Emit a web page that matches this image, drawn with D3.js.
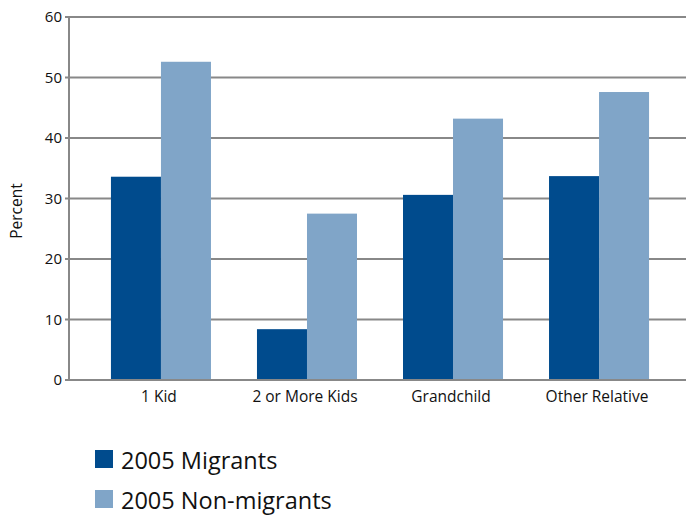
<!DOCTYPE html>
<html>
<head>
<meta charset="utf-8">
<script src="https://cdn.jsdelivr.net/npm/d3@7"></script>
<style>
  body { margin: 0; background: #fff; }
  text { font-family: "Open Sans", "Noto Sans", sans-serif; fill: #111; }
</style>
</head>
<body>
<script>
var categories = ['1 Kid', '2 or More Kids', 'Grandchild', 'Other Relative']
var seriesNames = ['2005 Migrants', '2005 Non-migrants']
var migrants = [33.6, 8.4, 30.6, 33.7]
var nonMigrants = [52.6, 27.5, 43.2, 47.6]
var yTicks = [0, 10, 20, 30, 40, 50, 60]
var colors = ['#004b8d', '#80a5c8']

var width = 689, height = 517
var plotLeft = 69, plotRight = 686, plotTop = 17, plotBottom = 380

var svg = d3.select('body').append('svg')
  .attr('width', width)
  .attr('height', height)

var y = d3.scaleLinear().domain([0, 60]).range([plotBottom, plotTop])

var x = d3.scaleBand()
  .domain(categories)
  .range([74, 686])
  .paddingInner(0.315)
  .paddingOuter(0.253)

var x1 = d3.scaleBand()
  .domain([0, 1])
  .range([0, x.bandwidth()])

// gridlines
svg.append('g')
  .selectAll('line')
  .data(yTicks)
  .enter()
  .append('line')
  .attr('x1', plotLeft - 4)
  .attr('x2', plotRight)
  .attr('y1', function(d){ return y(d) })
  .attr('y2', function(d){ return y(d) })
  .attr('stroke', '#888')
  .attr('stroke-width', 2)

svg.append('line')
  .attr('x1', plotLeft).attr('x2', plotLeft)
  .attr('y1', plotTop - 1).attr('y2', plotBottom + 1)
  .attr('stroke', '#888')
  .attr('stroke-width', 2)

// y tick labels
svg.append('g')
  .selectAll('text')
  .data(yTicks)
  .enter()
  .append('text')
  .attr('x', plotLeft - 7)
  .attr('y', function(d){ return y(d) })
  .attr('dy', '0.35em')
  .attr('text-anchor', 'end')
  .attr('font-size', 15)
  .text(function(d){ return d })

// bars
var rows = categories.map(function(c, i){ return [migrants[i], nonMigrants[i]] })

var groups = svg.append('g')
  .selectAll('g')
  .data(rows)
  .enter()
  .append('g')
  .attr('transform', function(d, i){ return 'translate(' + x(categories[i]) + ',0)' })

groups.selectAll('rect')
  .data(function(d){ return d })
  .enter()
  .append('rect')
  .attr('x', function(d, j){ return x1(j) })
  .attr('width', x1.bandwidth())
  .attr('y', function(d){ return y(d) })
  .attr('height', function(d){ return plotBottom - y(d) })
  .attr('fill', function(d, j){ return colors[j] })

// baseline over the bars
svg.append('line')
  .attr('x1', plotLeft - 4).attr('x2', plotRight)
  .attr('y1', plotBottom).attr('y2', plotBottom)
  .attr('stroke', '#888')
  .attr('stroke-width', 2)

// category labels
svg.append('g')
  .selectAll('text')
  .data(categories)
  .enter()
  .append('text')
  .attr('x', function(d){ return x(d) + x.bandwidth() / 2 - 2 })
  .attr('y', 402)
  .attr('text-anchor', 'middle')
  .attr('font-size', 15.5)
  .text(function(d){ return d })

svg.append('text')
  .attr('transform', 'translate(22,211) rotate(-90)')
  .attr('text-anchor', 'middle')
  .attr('font-size', 15.5)
  .text('Percent')

// legend
var legend = svg.append('g')
  .selectAll('g')
  .data(seriesNames)
  .enter()
  .append('g')
  .attr('transform', function(d, i){ return 'translate(95,' + (450 + i * 40) + ')' })

legend.append('rect')
  .attr('width', 18)
  .attr('height', 18)
  .attr('fill', function(d, i){ return colors[i] })

legend.append('text')
  .attr('x', 26)
  .attr('y', 19)
  .attr('font-size', 23.5)
  .text(function(d){ return d })
</script>
</body>
</html>
